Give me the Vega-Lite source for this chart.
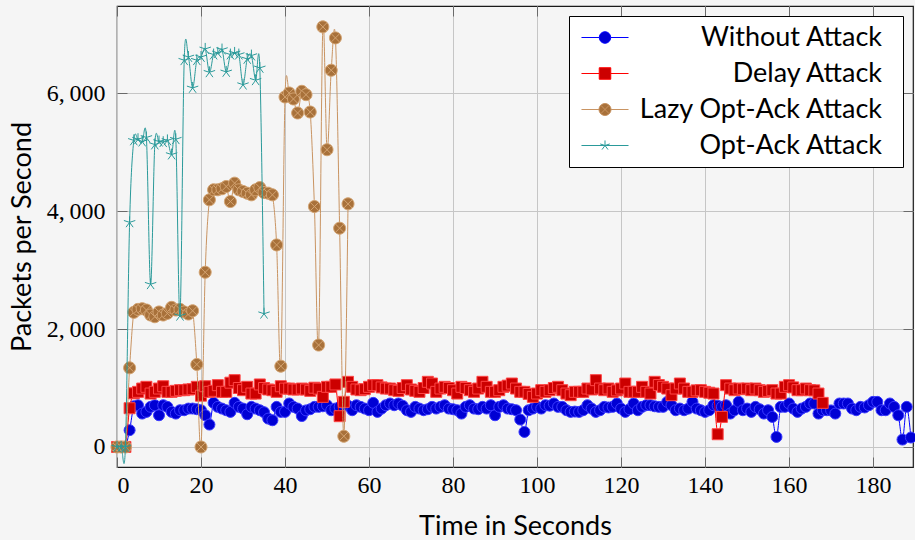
{
  "$schema": "https://vega.github.io/schema/vega-lite/v6.json",
  "width": 796,
  "height": 461,
  "autosize": {"type": "none"},
  "padding": {"left": 117, "top": 6, "right": 2, "bottom": 73},
  "background": "#f5f5f5",
  "view": {"stroke": "#1a1a1a", "strokeWidth": 1.2, "fill": "#f5f5f5"},
  "datasets": {
    "without": [
      {"t":0,"v":0},{"t":1,"v":0},{"t":2,"v":0},{"t":3,"v":285},{"t":4,"v":690},{"t":5,"v":708},{"t":6,"v":566},{"t":7,"v":595},{"t":8,"v":680},{"t":9,"v":708},
      {"t":10,"v":538},{"t":11,"v":708},{"t":12,"v":680},{"t":13,"v":595},{"t":14,"v":566},{"t":15,"v":623},{"t":16,"v":623},{"t":17,"v":651},{"t":18,"v":651},{"t":19,"v":640},
      {"t":20,"v":623},{"t":21,"v":538},{"t":22,"v":380},{"t":23,"v":748},{"t":24,"v":680},{"t":25,"v":651},{"t":26,"v":623},{"t":27,"v":595},{"t":28,"v":748},{"t":29,"v":680},
      {"t":30,"v":651},{"t":31,"v":555},{"t":32,"v":680},{"t":33,"v":651},{"t":34,"v":623},{"t":35,"v":590},{"t":36,"v":481},{"t":37,"v":453},{"t":38,"v":680},{"t":39,"v":595},
      {"t":40,"v":595},{"t":41,"v":737},{"t":42,"v":680},{"t":43,"v":651},{"t":44,"v":525},{"t":45,"v":620},{"t":46,"v":640},{"t":47,"v":680},{"t":48,"v":680},{"t":49,"v":690},
      {"t":50,"v":708},{"t":51,"v":623},{"t":52,"v":651},{"t":53,"v":680},{"t":54,"v":737},{"t":55,"v":700},{"t":56,"v":623},{"t":57,"v":708},{"t":58,"v":680},{"t":59,"v":651},
      {"t":60,"v":623},{"t":61,"v":748},{"t":62,"v":595},{"t":63,"v":651},{"t":64,"v":708},{"t":65,"v":737},{"t":66,"v":708},{"t":67,"v":737},{"t":68,"v":700},{"t":69,"v":623},
      {"t":70,"v":595},{"t":71,"v":680},{"t":72,"v":651},{"t":73,"v":623},{"t":74,"v":640},{"t":75,"v":680},{"t":76,"v":651},{"t":77,"v":680},{"t":78,"v":708},{"t":79,"v":651},
      {"t":80,"v":640},{"t":81,"v":623},{"t":82,"v":566},{"t":83,"v":680},{"t":84,"v":708},{"t":85,"v":651},{"t":86,"v":640},{"t":87,"v":680},{"t":88,"v":651},{"t":89,"v":708},
      {"t":90,"v":538},{"t":91,"v":680},{"t":92,"v":708},{"t":93,"v":651},{"t":94,"v":640},{"t":95,"v":623},{"t":96,"v":465},{"t":97,"v":255},{"t":98,"v":623},{"t":99,"v":651},
      {"t":100,"v":680},{"t":101,"v":651},{"t":102,"v":708},{"t":103,"v":700},{"t":104,"v":737},{"t":105,"v":680},{"t":106,"v":680},{"t":107,"v":623},{"t":108,"v":595},{"t":109,"v":600},
      {"t":110,"v":595},{"t":111,"v":623},{"t":112,"v":708},{"t":113,"v":651},{"t":114,"v":595},{"t":115,"v":623},{"t":116,"v":680},{"t":117,"v":670},{"t":118,"v":680},{"t":119,"v":737},
      {"t":120,"v":651},{"t":121,"v":595},{"t":122,"v":640},{"t":123,"v":737},{"t":124,"v":623},{"t":125,"v":680},{"t":126,"v":708},{"t":127,"v":708},{"t":128,"v":690},{"t":129,"v":680},
      {"t":130,"v":680},{"t":131,"v":765},{"t":132,"v":708},{"t":133,"v":623},{"t":134,"v":651},{"t":135,"v":623},{"t":136,"v":650},{"t":137,"v":765},{"t":138,"v":651},{"t":139,"v":623},
      {"t":140,"v":595},{"t":141,"v":623},{"t":142,"v":708},{"t":143,"v":700},{"t":144,"v":680},{"t":145,"v":708},{"t":146,"v":566},{"t":147,"v":623},{"t":148,"v":765},{"t":149,"v":623},
      {"t":150,"v":651},{"t":151,"v":595},{"t":152,"v":680},{"t":153,"v":640},{"t":154,"v":566},{"t":155,"v":623},{"t":156,"v":510},{"t":157,"v":170},{"t":158,"v":680},{"t":159,"v":680},
      {"t":160,"v":737},{"t":161,"v":651},{"t":162,"v":595},{"t":163,"v":651},{"t":164,"v":680},{"t":165,"v":737},{"t":166,"v":737},{"t":167,"v":566},{"t":168,"v":623},{"t":169,"v":623},
      {"t":170,"v":620},{"t":171,"v":566},{"t":172,"v":737},{"t":173,"v":737},{"t":174,"v":737},{"t":175,"v":651},{"t":176,"v":623},{"t":177,"v":680},{"t":178,"v":670},{"t":179,"v":708},
      {"t":180,"v":765},{"t":181,"v":765},{"t":182,"v":623},{"t":183,"v":623},{"t":184,"v":737},{"t":185,"v":680},{"t":186,"v":538},{"t":187,"v":125},{"t":188,"v":680},{"t":189,"v":160}
    ],
    "delay": [
      {"t":0,"v":0},{"t":1,"v":0},{"t":2,"v":0},{"t":3,"v":657},{"t":4,"v":910},{"t":5,"v":935},{"t":6,"v":991},{"t":7,"v":1020},{"t":8,"v":906},{"t":9,"v":935},
      {"t":10,"v":991},{"t":11,"v":1030},{"t":12,"v":935},{"t":13,"v":935},{"t":14,"v":952},{"t":15,"v":963},{"t":16,"v":963},{"t":17,"v":975},{"t":18,"v":980},{"t":19,"v":1020},
      {"t":20,"v":870},{"t":21,"v":1030},{"t":22,"v":935},{"t":23,"v":952},{"t":24,"v":1048},{"t":25,"v":935},{"t":26,"v":935},{"t":27,"v":1090},{"t":28,"v":1133},{"t":29,"v":1000},
      {"t":30,"v":963},{"t":31,"v":1020},{"t":32,"v":906},{"t":33,"v":906},{"t":34,"v":1060},{"t":35,"v":1000},{"t":36,"v":975},{"t":37,"v":963},{"t":38,"v":935},{"t":39,"v":1030},
      {"t":40,"v":990},{"t":41,"v":991},{"t":42,"v":975},{"t":43,"v":975},{"t":44,"v":991},{"t":45,"v":975},{"t":46,"v":952},{"t":47,"v":1005},{"t":48,"v":990},{"t":49,"v":850},
      {"t":50,"v":1020},{"t":51,"v":1020},{"t":52,"v":1060},{"t":53,"v":522},{"t":54,"v":765},{"t":55,"v":1105},{"t":56,"v":1020},{"t":57,"v":975},{"t":58,"v":963},{"t":59,"v":980},
      {"t":60,"v":1020},{"t":61,"v":1048},{"t":62,"v":1048},{"t":63,"v":1010},{"t":64,"v":991},{"t":65,"v":991},{"t":66,"v":963},{"t":67,"v":952},{"t":68,"v":1000},{"t":69,"v":1048},
      {"t":70,"v":975},{"t":71,"v":952},{"t":72,"v":935},{"t":73,"v":1000},{"t":74,"v":1105},{"t":75,"v":1076},{"t":76,"v":935},{"t":77,"v":991},{"t":78,"v":1020},{"t":79,"v":1000},
      {"t":80,"v":963},{"t":81,"v":906},{"t":82,"v":1020},{"t":83,"v":1000},{"t":84,"v":963},{"t":85,"v":935},{"t":86,"v":991},{"t":87,"v":1105},{"t":88,"v":1020},{"t":89,"v":935},
      {"t":90,"v":935},{"t":91,"v":963},{"t":92,"v":1020},{"t":93,"v":1040},{"t":94,"v":1076},{"t":95,"v":991},{"t":96,"v":935},{"t":97,"v":935},{"t":98,"v":900},{"t":99,"v":850},
      {"t":100,"v":906},{"t":101,"v":963},{"t":102,"v":935},{"t":103,"v":963},{"t":104,"v":1000},{"t":105,"v":1020},{"t":106,"v":963},{"t":107,"v":906},{"t":108,"v":878},{"t":109,"v":935},
      {"t":110,"v":935},{"t":111,"v":935},{"t":112,"v":991},{"t":113,"v":975},{"t":114,"v":1133},{"t":115,"v":991},{"t":116,"v":963},{"t":117,"v":991},{"t":118,"v":935},{"t":119,"v":960},
      {"t":120,"v":991},{"t":121,"v":1076},{"t":122,"v":935},{"t":123,"v":935},{"t":124,"v":935},{"t":125,"v":1020},{"t":126,"v":935},{"t":127,"v":906},{"t":128,"v":1105},{"t":129,"v":1050},
      {"t":130,"v":1020},{"t":131,"v":991},{"t":132,"v":878},{"t":133,"v":991},{"t":134,"v":1076},{"t":135,"v":991},{"t":136,"v":935},{"t":137,"v":935},{"t":138,"v":960},{"t":139,"v":963},
      {"t":140,"v":935},{"t":141,"v":920},{"t":142,"v":906},{"t":143,"v":216},{"t":144,"v":510},{"t":145,"v":1048},{"t":146,"v":991},{"t":147,"v":963},{"t":148,"v":991},{"t":149,"v":980},
      {"t":150,"v":991},{"t":151,"v":963},{"t":152,"v":991},{"t":153,"v":963},{"t":154,"v":935},{"t":155,"v":950},{"t":156,"v":963},{"t":157,"v":906},{"t":158,"v":906},{"t":159,"v":1020},
      {"t":160,"v":1048},{"t":161,"v":1010},{"t":162,"v":963},{"t":163,"v":963},{"t":164,"v":991},{"t":165,"v":963},{"t":166,"v":960},{"t":167,"v":906},{"t":168,"v":748}
    ],
    "lazy": [
      {"t":0,"v":0},{"t":1,"v":0},{"t":2,"v":0},{"t":3,"v":1342},{"t":4,"v":2283},{"t":5,"v":2334},{"t":6,"v":2345},{"t":7,"v":2323},{"t":8,"v":2238},{"t":9,"v":2209},
      {"t":10,"v":2290},{"t":11,"v":2238},{"t":12,"v":2266},{"t":13,"v":2368},{"t":14,"v":2323},{"t":15,"v":2334},{"t":16,"v":2290},{"t":17,"v":2255},{"t":18,"v":2310},{"t":19,"v":1400},
      {"t":20,"v":0},{"t":21,"v":2963},{"t":22,"v":4192},{"t":23,"v":4362},{"t":24,"v":4362},{"t":25,"v":4380},{"t":26,"v":4418},{"t":27,"v":4163},{"t":28,"v":4475},{"t":29,"v":4362},
      {"t":30,"v":4334},{"t":31,"v":4305},{"t":32,"v":4277},{"t":33,"v":4362},{"t":34,"v":4400},{"t":35,"v":4316},{"t":36,"v":4305},{"t":37,"v":4277},{"t":38,"v":3427},{"t":39,"v":1371},
      {"t":40,"v":5937},{"t":41,"v":6005},{"t":42,"v":5903},{"t":43,"v":5665},{"t":44,"v":6033},{"t":45,"v":5976},{"t":46,"v":5682},{"t":47,"v":4078},{"t":48,"v":1728},{"t":49,"v":7126},
      {"t":50,"v":5042},{"t":51,"v":6390},{"t":52,"v":6939},{"t":53,"v":3711},{"t":54,"v":182},{"t":55,"v":4124}
    ],
    "optack": [
      {"t":0,"v":0},{"t":1,"v":0},{"t":2,"v":0},{"t":3,"v":3810},{"t":4,"v":5200},{"t":5,"v":5220},{"t":6,"v":5180},{"t":7,"v":5250},{"t":8,"v":2760},{"t":9,"v":5130},
      {"t":10,"v":5180},{"t":11,"v":5170},{"t":12,"v":5200},{"t":13,"v":4960},{"t":14,"v":5220},{"t":15,"v":2226},{"t":16,"v":6560},{"t":17,"v":6615},{"t":18,"v":6090},{"t":19,"v":6560},
      {"t":20,"v":6615},{"t":21,"v":6752},{"t":22,"v":6355},{"t":23,"v":6656},{"t":24,"v":6684},{"t":25,"v":6741},{"t":26,"v":6362},{"t":27,"v":6656},{"t":28,"v":6684},{"t":29,"v":6656},
      {"t":30,"v":6146},{"t":31,"v":6582},{"t":32,"v":6639},{"t":33,"v":6220},{"t":34,"v":6430},{"t":35,"v":2260}
    ]
  },
  "resolve": {"axis": {"x": "independent", "y": "independent"}},
  "layer": [
    {
      "data": {"name": "without"},
      "mark": {"type": "line", "interpolate": "cardinal", "strokeWidth": 1, "clip": true},
      "encoding": {
        "x": {"field": "t", "type": "quantitative",
              "scale": {"domain": [0, 189.5], "nice": false, "zero": false},
              "axis": {"orient": "bottom", "title": "Time in Seconds", "values": [0,20,40,60,80,100,120,140,160,180], "format": ".0f",
                       "domain": false, "grid": true, "gridColor": "#c6c6c6", "gridWidth": 1, "ticks": false,
                       "labelFont": "Liberation Serif", "labelFontSize": 24, "labelColor": "#000000", "labelPadding": 6,
                       "titleFont": "Lato", "titleFontSize": 27, "titleFontWeight": "normal", "titleColor": "#000000", "titlePadding": 16}},
        "y": {"field": "v", "type": "quantitative",
              "scale": {"domain": [-340, 7480], "nice": false, "zero": false},
              "axis": {"orient": "left", "title": "Packets per Second", "values": [0,2000,4000,6000],
                       "labelExpr": "replace(format(datum.value, ',.0f'), ',', ',\u2009')",
                       "domain": false, "grid": true, "gridColor": "#c6c6c6", "gridWidth": 1, "ticks": false,
                       "labelFont": "Liberation Serif", "labelFontSize": 24, "labelColor": "#000000", "labelPadding": 12,
                       "titleFont": "Lato", "titleFontSize": 27, "titleFontWeight": "normal", "titleColor": "#000000", "titlePadding": 10}},
        "color": {"datum": "Without Attack", "type": "nominal",
          "scale": {"domain": ["Without Attack", "Delay Attack", "Lazy Opt-Ack Attack", "Opt-Ack Attack"],
                    "range": ["#0000ff", "#ff0000", "#c99462", "#2a9a9a"]},
          "legend": {
            "title": null, "orient": "top-right", "offset": 10,
            "fillColor": "#ffffff", "strokeColor": "#000000", "padding": 8, "cornerRadius": 0,
            "symbolSize": 576, "symbolStrokeWidth": 1, "symbolOffset": 14.5,
            "labelFont": "Lato", "labelFontSize": 27, "labelColor": "#000000",
            "labelAlign": "right", "labelOffset": 263.5, "labelLimit": 400, "rowPadding": 8,
            "encode": {
              "symbols": {"update": {
                "shape": {"signal": "(datum.value === 'Without Attack' ? 'M-1.96,0L-0.48,0M0.48,0L1.96,0M0.48,0A0.48,0.48,0,1,1,-0.48,0A0.48,0.48,0,1,1,0.48,0Z' : datum.value === 'Delay Attack' ? 'M-1.96,0L-0.48,0M0.48,0L1.96,0M-0.48,-0.48L0.48,-0.48L0.48,0.48L-0.48,0.48Z' : datum.value === 'Lazy Opt-Ack Attack' ? 'M-1.96,0L-0.5,0M0.5,0L1.96,0M0.5,0A0.5,0.5,0,1,1,-0.5,0A0.5,0.5,0,1,1,0.5,0ZM0.35,0.35L-0.35,-0.35M-0.35,0.35L0.35,-0.35' : 'M-1.96,0L1.96,0M0,0L0,-0.42M0,0L-0.4,-0.13M0,0L-0.25,0.34M0,0L0.25,0.34M0,0L0.4,-0.13') + 'M24,0L24,0'"},
                "fill": {"signal": "datum.value === 'Without Attack' ? '#0000d4' : datum.value === 'Delay Attack' ? '#cc0000' : datum.value === 'Lazy Opt-Ack Attack' ? '#a8713a' : 'transparent'"},
                "opacity": {"value": 1}
              }}
            }
          }
        }
      }
    },
    {
      "data": {"name": "without"},
      "mark": {"type": "point", "shape": "circle", "filled": true, "fill": "#0000d4", "stroke": "#3a3aff", "strokeWidth": 1, "size": 121, "opacity": 1},
      "encoding": {
        "x": {"field": "t", "type": "quantitative",
              "axis": {"orient": "top", "offset": -461, "labels": false, "title": null, "grid": false, "domain": false,
                       "ticks": true, "tickColor": "#6a6a6a", "tickWidth": 1, "tickSize": 10,
                       "values": [0,20,40,60,80,100,120,140,160,180]}},
        "y": {"field": "v", "type": "quantitative",
              "axis": {"orient": "right", "offset": -796, "labels": false, "title": null, "grid": false, "domain": false,
                       "ticks": true, "tickColor": "#6a6a6a", "tickWidth": 1, "tickSize": 10,
                       "values": [0,2000,4000,6000]}}
      }
    },
    {
      "data": {"name": "delay"},
      "mark": {"type": "line", "interpolate": "cardinal", "strokeWidth": 1, "clip": true},
      "encoding": {
        "x": {"field": "t", "type": "quantitative",
              "axis": {"orient": "bottom", "offset": -461, "labels": false, "title": null, "grid": false, "domain": false,
                       "ticks": true, "tickColor": "#6a6a6a", "tickWidth": 1, "tickSize": 10,
                       "values": [0,20,40,60,80,100,120,140,160,180]}},
        "y": {"field": "v", "type": "quantitative",
              "axis": {"orient": "left", "offset": -796, "labels": false, "title": null, "grid": false, "domain": false,
                       "ticks": true, "tickColor": "#6a6a6a", "tickWidth": 1, "tickSize": 10,
                       "values": [0,2000,4000,6000]}},
        "color": {"datum": "Delay Attack", "type": "nominal"}
      }
    },
    {
      "data": {"name": "delay"},
      "mark": {"type": "point", "shape": "square", "filled": true, "fill": "#cc0000", "stroke": "#ff4545", "strokeWidth": 1, "size": 121, "opacity": 1},
      "encoding": {
        "x": {"field": "t", "type": "quantitative", "axis": null},
        "y": {"field": "v", "type": "quantitative", "axis": null}
      }
    },
    {
      "data": {"name": "lazy"},
      "mark": {"type": "line", "interpolate": "cardinal", "strokeWidth": 1, "clip": true},
      "encoding": {
        "x": {"field": "t", "type": "quantitative", "axis": null},
        "y": {"field": "v", "type": "quantitative", "axis": null},
        "color": {"datum": "Lazy Opt-Ack Attack", "type": "nominal"}
      }
    },
    {
      "data": {"name": "lazy"},
      "mark": {"type": "point", "shape": "M1,0A1,1,0,1,1,-1,0A1,1,0,1,1,1,0ZM0.7,0.7L-0.7,-0.7M-0.7,0.7L0.7,-0.7", "filled": true, "fill": "#a8713a", "stroke": "#d4a472", "strokeWidth": 1, "size": 144, "opacity": 1},
      "encoding": {
        "x": {"field": "t", "type": "quantitative", "axis": null},
        "y": {"field": "v", "type": "quantitative", "axis": null}
      }
    },
    {
      "data": {"name": "optack"},
      "mark": {"type": "line", "interpolate": "cardinal", "strokeWidth": 1, "clip": true},
      "encoding": {
        "x": {"field": "t", "type": "quantitative", "axis": null},
        "y": {"field": "v", "type": "quantitative", "axis": null},
        "color": {"datum": "Opt-Ack Attack", "type": "nominal"}
      }
    },
    {
      "data": {"name": "optack"},
      "mark": {"type": "point", "shape": "M0,0L0,-1M0,0L-0.95,-0.31M0,0L-0.59,0.81M0,0L0.59,0.81M0,0L0.95,-0.31", "filled": false, "stroke": "#2a9a9a", "strokeWidth": 1, "size": 144, "opacity": 1},
      "encoding": {
        "x": {"field": "t", "type": "quantitative", "axis": null},
        "y": {"field": "v", "type": "quantitative", "axis": null}
      }
    }
  ]
}
